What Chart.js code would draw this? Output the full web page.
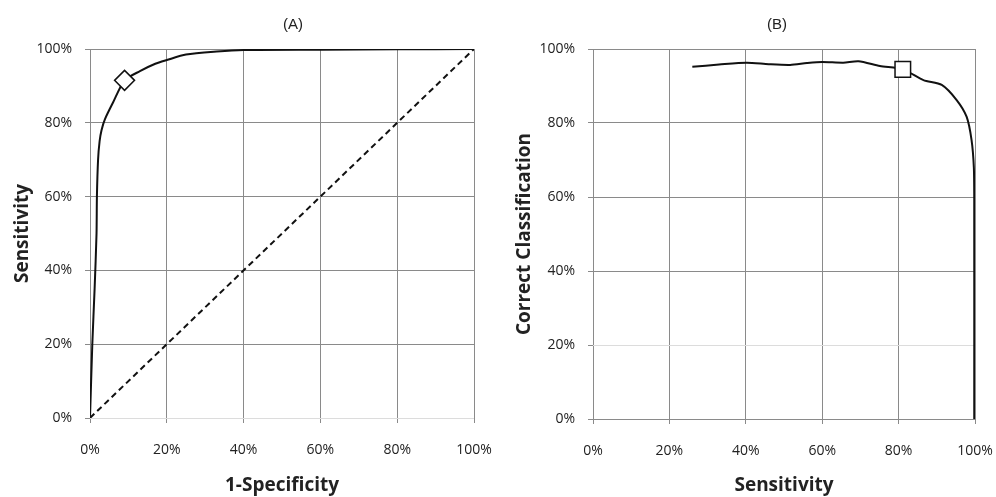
<!DOCTYPE html>
<html>
<head>
<meta charset="utf-8">
<script src="https://cdn.jsdelivr.net/npm/chart.js@4.4.1/dist/chart.umd.min.js"></script>
<style>
  html, body { margin: 0; padding: 0; background: #fff; }
  .panel { position: absolute; top: 0; width: 498px; height: 497px; }
  #panel-a { left: 0; }
  #panel-b { left: 498px; }
</style>
</head>
<body>
<div class="panel" id="panel-a"><canvas id="chart-a" width="498" height="497"></canvas></div>
<div class="panel" id="panel-b"><canvas id="chart-b" width="498" height="497"></canvas></div>
<script>
// panel A: ROC curve (1-specificity vs sensitivity)
const rocFpr = [0, 0.6, 1.2, 1.7, 1.8, 2.1, 2.5, 3.0, 3.9, 6.0, 9.0, 13.0, 17.0, 20.0, 25.0, 33.0, 40.0, 60.0, 80.0, 100];
const rocTpr = [0, 20, 35, 50, 60, 70, 75, 78, 81, 85.5, 91.5, 94.0, 96.0, 97.0, 98.5, 99.3, 99.7, 99.8, 99.9, 100];
const chanceX = [0, 100];
const chanceY = [0, 100];
const rocCutX = [9.0];
const rocCutY = [91.5];

// panel B: correct classification vs sensitivity
const ccSens = [26, 33, 40.2, 46, 51.6, 56, 60, 65.5, 69.5, 75.1, 81.1, 86.5, 91.3, 95.2, 97.8, 99.1, 99.7, 99.8, 99.8];
const ccRate = [95.2, 95.8, 96.3, 95.9, 95.7, 96.2, 96.5, 96.3, 96.7, 95.4, 94.5, 91.6, 90.3, 86.2, 81.7, 75.4, 68.0, 59.0, 0];
const ccCutX = [81.1];
const ccCutY = [94.5];

const tickValues = [0, 20, 40, 60, 80, 100];

const TEXT = '#222';
const GRID = '#8a8a8a';
const GRID_LIGHT = '#dcdcdc';
const TICK_FONT = { family: '"Open Sans", sans-serif', size: 14 };
const TITLE_FONT = { family: '"Open Sans", sans-serif', size: 19, weight: 'bold' };

const pts = (xs, ys) => xs.map((x, i) => ({ x, y: ys[i] }));

// panel caption drawn above the plot area, offset from its centre
const panelTitle = {
  id: 'panelTitle',
  afterDraw(chart, args, opts) {
    const { ctx, chartArea } = chart;
    ctx.save();
    ctx.font = '15px "Liberation Sans", Arial, sans-serif';
    ctx.fillStyle = TEXT;
    ctx.textAlign = 'center';
    ctx.textBaseline = 'middle';
    ctx.fillText(opts.text, (chartArea.left + chartArea.right) / 2 + opts.dx, opts.y);
    ctx.restore();
  }
};

function axisOptions(title, size, titlePad, labelPad, lightValue, isX) {
  return {
    type: 'linear',
    min: 0,
    max: 100,
    afterBuildTicks: (scale) => { scale.ticks = tickValues.map(v => ({ value: v })); },
    afterFit: (scale) => {
      if (isX) {
        scale.height = size;
        // let layout.padding decide the right edge, not the last label
        scale.paddingLeft = 0;
        scale.paddingRight = 0;
      } else {
        scale.width = size;
      }
    },
    ticks: {
      color: TEXT,
      font: TICK_FONT,
      padding: labelPad,
      maxRotation: 0,
      autoSkip: false,
      callback: (v) => `${v}%`
    },
    grid: {
      color: (ctx) => ctx.tick && ctx.tick.value === lightValue ? GRID_LIGHT : GRID,
      tickColor: GRID,
      lineWidth: 1,
      drawTicks: true,
      tickLength: 5
    },
    border: { display: false },
    title: {
      display: true,
      text: title,
      color: TEXT,
      font: TITLE_FONT,
      padding: isX ? { top: 0, bottom: titlePad } : { top: titlePad, bottom: 0 }
    }
  };
}

function makeChart(id, cfg) {
  return new Chart(document.getElementById(id), {
    type: 'line',
    data: { datasets: cfg.datasets },
    options: {
      responsive: false,
      animation: false,
      layout: { padding: { left: 0, right: cfg.padRight, top: 49, bottom: 0 } },
      scales: {
        x: axisOptions(cfg.xTitle, cfg.xHeight, 0, 19, cfg.xLight, true),
        y: axisOptions(cfg.yTitle, cfg.yWidth, cfg.yTitlePad, 13, cfg.yLight, false)
      },
      plugins: {
        legend: { display: false },
        tooltip: { enabled: false },
        panelTitle: { text: cfg.caption, dx: cfg.captionDx, y: 25 }
      }
    },
    plugins: [panelTitle]
  });
}

makeChart('chart-a', {
  caption: '(A)',
  captionDx: 11,
  xTitle: '1-Specificity',
  yTitle: 'Sensitivity',
  xHeight: 79,
  yWidth: 90,
  yTitlePad: 11,
  padRight: 24,
  xLight: null,
  yLight: 0,
  datasets: [
    {
      data: pts(rocCutX, rocCutY),
      order: 0,
      showLine: false,
      pointStyle: 'rectRot',
      pointRadius: 10,
      pointBorderWidth: 1.5,
      pointBorderColor: '#111',
      pointBackgroundColor: '#fff'
    },
    {
      data: pts(rocFpr, rocTpr),
      order: 1,
      borderColor: '#111',
      borderWidth: 2,
      tension: 0.25,
      pointRadius: 0
    },
    {
      data: pts(chanceX, chanceY),
      order: 2,
      borderColor: '#111',
      borderWidth: 2,
      borderDash: [6, 4],
      pointRadius: 0
    }
  ]
});

makeChart('chart-b', {
  caption: '(B)',
  captionDx: -7,
  xTitle: 'Sensitivity',
  yTitle: 'Correct Classification',
  xHeight: 78,
  yWidth: 95,
  yTitlePad: 15,
  padRight: 21,
  xLight: null,
  yLight: 20,
  datasets: [
    {
      data: pts(ccCutX, ccCutY),
      order: 0,
      showLine: false,
      pointStyle: 'rect',
      pointRadius: 11,
      pointBorderWidth: 1.5,
      pointBorderColor: '#111',
      pointBackgroundColor: '#fff'
    },
    {
      data: pts(ccSens, ccRate),
      order: 1,
      borderColor: '#111',
      borderWidth: 2,
      tension: 0.25,
      pointRadius: 0
    }
  ]
});
</script>
</body>
</html>
